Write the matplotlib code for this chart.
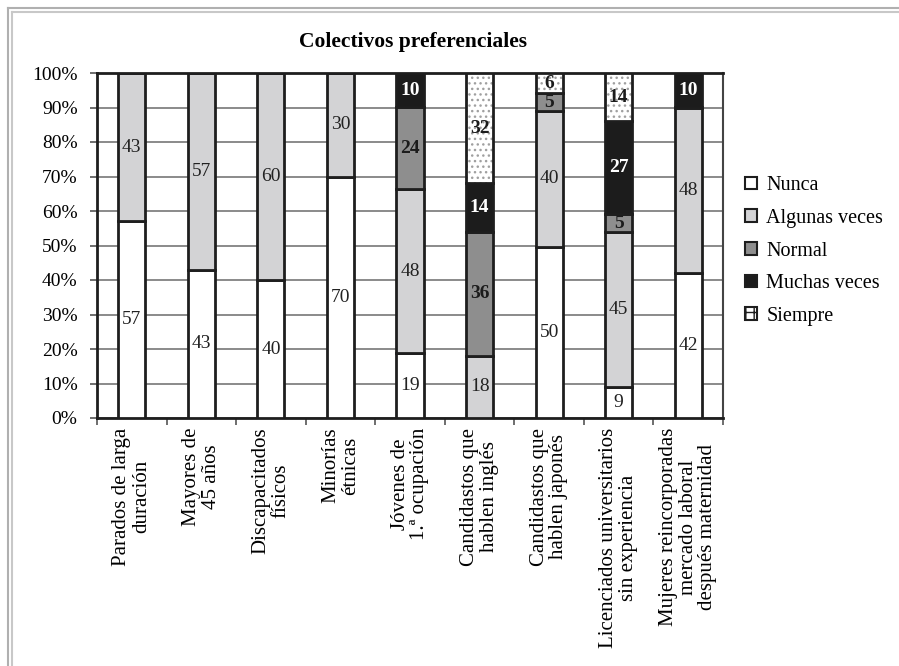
import numpy as np
import matplotlib
matplotlib.use("Agg")
import matplotlib.pyplot as plt
from matplotlib.patches import Patch
from matplotlib.lines import Line2D

plt.rcParams['font.family'] = ['Liberation Serif', 'DejaVu Serif']

categorias = ['Parados de larga\nduración', 'Mayores de\n45 años',
              'Discapacitados\nfísicos', 'Minorías\nétnicas',
              'Jóvenes de\n1.ª ocupación', 'Candidastos que\nhablen inglés',
              'Candidastos que\nhablen japonés',
              'Licenciados universitarios\nsin experiencia',
              'Mujeres reincorporadas\nmercado laboral\ndespués maternidad']
series = ['Nunca', 'Algunas veces', 'Normal', 'Muchas veces', 'Siempre']
nunca = [57, 43, 40, 70, 19, 0, 50, 9, 42]
algunas = [43, 57, 60, 30, 48, 18, 40, 45, 48]
normal = [0, 0, 0, 0, 24, 36, 5, 5, 0]
muchas = [0, 0, 0, 0, 10, 14, 0, 27, 10]
siempre = [0, 0, 0, 0, 0, 32, 6, 14, 0]

colores = ['white', '#d3d3d5', '#8e8e8e', '#1c1c1c', 'white']
col_texto = ['#222222', '#222222', '#1c1c1c', 'white', '#1c1c1c']
negrita = [False, False, True, True, True]

datos = np.array([nunca, algunas, normal, muchas, siempre], dtype=float)
pct = datos / datos.sum(axis=0) * 100

W, H = 899, 666
fig = plt.figure(figsize=(W / 100, H / 100), dpi=100)
ax = fig.add_axes([97 / W, 1 - 418 / H, (723 - 97) / W, (418 - 73) / H])

x = np.arange(len(categorias))
ancho = 0.39
base = np.zeros(len(categorias))
for i, s in enumerate(series):
    if s == 'Siempre':
        ax.bar(x, pct[i], ancho, bottom=base, color='white', hatch='...',
               edgecolor='#a0a0a0', linewidth=0, zorder=3)
        ax.bar(x, pct[i], ancho, bottom=base, fill=False,
               edgecolor='#1e1e1e', linewidth=2, zorder=4)
    else:
        ax.bar(x, pct[i], ancho, bottom=base, color=colores[i],
               edgecolor='#1e1e1e', linewidth=2, zorder=3)
    for j in range(len(categorias)):
        if datos[i, j] > 0:
            ax.text(x[j], base[j] + pct[i, j] / 2, f'{datos[i, j]:.0f}',
                    ha='center', va='center', fontsize=14,
                    color=col_texto[i],
                    fontweight='bold' if negrita[i] else 'normal', zorder=5)
    base += pct[i]

ax.set_xlim(-0.5, len(categorias) - 0.5)
ax.set_ylim(0, 100)
ax.set_yticks(np.arange(0, 101, 10))
ax.set_yticklabels([f'{v}%' for v in range(0, 101, 10)], fontsize=14)
ax.yaxis.grid(True, color='#8a8a8a', linewidth=1.4, zorder=0)
ax.set_axisbelow(True)
ax.tick_params(axis='y', length=5, width=1.2, color='#555555', pad=9)

ax.set_xticks(x)
ax.set_xticklabels(categorias, rotation=90, fontsize=15, ha='center',
                   va='top', multialignment='center', linespacing=1.05)
ax.set_xticks(np.arange(-0.5, len(categorias), 1), minor=True)
ax.tick_params(axis='x', which='major', length=0, pad=7)
ax.tick_params(axis='x', which='minor', length=5, width=1.2, color='#555555')

for lado in ['left', 'bottom', 'top']:
    ax.spines[lado].set_color('#1e1e1e')
    ax.spines[lado].set_linewidth(2)
ax.spines['right'].set_color('#444444')
ax.spines['right'].set_linewidth(1.5)

fig.text(413 / W, 1 - 42 / H, 'Colectivos preferenciales', ha='center',
         va='center', fontsize=15.5, fontweight='bold')

handles = []
for i, s in enumerate(series):
    if s == 'Siempre':
        handles.append(Patch(facecolor='white', edgecolor='#1e1e1e',
                             hatch='++', linewidth=1.5))
    else:
        handles.append(Patch(facecolor=colores[i], edgecolor='#1e1e1e',
                             linewidth=1.5))
fig.legend(handles, series, loc='center left',
           bbox_to_anchor=(727 / W, 1 - 251 / H), frameon=False,
           fontsize=14.5, handlelength=0.6, handleheight=0.6,
           handletextpad=0.45, labelspacing=0.68)

# marco gris de la figura
for off, c in [(8, '#b0b0b0'), (12, '#c8c8c8')]:
    fig.add_artist(Line2D([off / W, off / W], [0, 1 - off / H],
                          transform=fig.transFigure, color=c, lw=1.5))
    fig.add_artist(Line2D([off / W, 1], [1 - off / H, 1 - off / H],
                          transform=fig.transFigure, color=c, lw=1.5))

fig.savefig('out.png', dpi=100)
